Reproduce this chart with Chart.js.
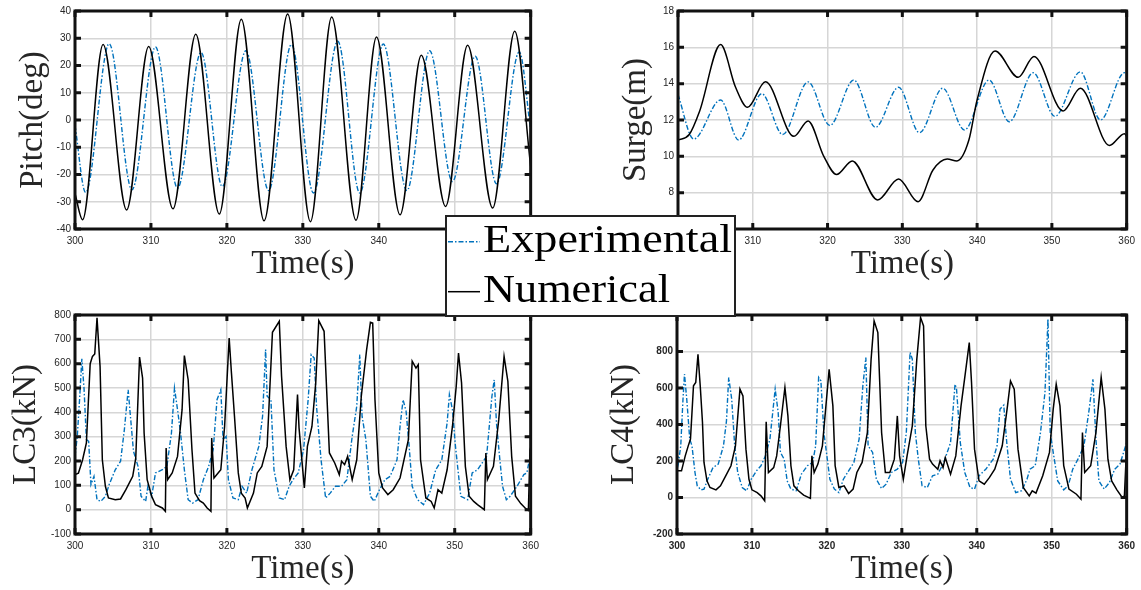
<!DOCTYPE html>
<html>
<head>
<meta charset="utf-8">
<script src="https://cdn.jsdelivr.net/npm/chart.js@4"></script>
<style>
  body { margin: 0; background: #fff; }
  #wrap { position: relative; width: 1141px; height: 590px; overflow: hidden; }
  canvas { position: absolute; }
  #legend { position: absolute; left: 445px; top: 215px; }
</style>
</head>
<body>
<div id="wrap">
  <canvas id="pitch" width="545" height="295" style="left:0;top:0"></canvas>
  <canvas id="surge" width="571" height="295" style="left:570px;top:0"></canvas>
  <canvas id="lc3" width="545" height="295" style="left:0;top:295px"></canvas>
  <canvas id="lc4" width="571" height="295" style="left:570px;top:295px"></canvas>
  <svg id="legend" width="291" height="102">
    <rect x="1" y="1" width="289" height="100" fill="#fff" stroke="#222" stroke-width="2"/>
    <line x1="3" y1="26.7" x2="35" y2="26.7" stroke="#0072BD" stroke-width="1.4" stroke-dasharray="5 2 1.5 2"/>
    <line x1="3" y1="76.7" x2="35" y2="76.7" stroke="#000" stroke-width="1.5"/>
    <text x="38" y="36.7" font-family="Liberation Serif" font-size="40" textLength="249" lengthAdjust="spacingAndGlyphs">Experimental</text>
    <text x="38" y="86.7" font-family="Liberation Serif" font-size="40" textLength="187" lengthAdjust="spacingAndGlyphs">Numerical</text>
  </svg>
</div>
<script>
// time axis shared by all four panels
var timeRange = [300, 360];

// pitch (deg): [time, value]
var pitchExperimental = [[300,-2],[301.4,-26.6],[304.5,28],[307.5,-25.6],[310.6,26.8],[313.5,-25],[316.6,24.8],[319.4,-24.4],[322.5,25.4],[325.5,-25.9],[328.5,27.7],[331.4,-26.8],[334.6,28.9],[337.5,-26.8],[340.6,27.9],[343.7,-25.9],[346.7,25.4],[349.7,-22.6],[352.7,23.4],[355.5,-23.4],[358.5,25],[360,-3.7]];
var pitchNumerical = [[300,-27],[301.0,-36.6],[303.7,27.7],[306.8,-33],[309.7,27],[312.9,-32.6],[315.9,31.5],[319.0,-34.5],[321.9,37],[324.9,-37],[328.0,38.9],[331.0,-37.3],[333.8,37.8],[337.0,-36.8],[339.7,30.5],[342.8,-34.8],[345.6,23.8],[348.8,-31.7],[351.7,27.4],[355.0,-32.3],[357.9,32.6],[360,-17]];

// surge (m)
var surgeExperimental = [[300,13.4],[302.1,10.95],[305.7,13.1],[308.1,10.9],[311.2,13.45],[314.0,11.2],[317.4,14.1],[320.3,11.7],[323.5,14.2],[326.4,11.6],[329.5,13.8],[332.3,11.3],[335.4,13.75],[338.3,11.45],[341.6,14.2],[344.3,11.9],[347.5,14.6],[350.4,12.2],[353.8,14.65],[356.5,12.0],[359.7,14.6],[360,14.5]];
var surgeNumerical = [[300,10.9],[301.5,11.2],[302.9,12.5],[305.7,16.15],[307.7,13.8],[309.3,12.7],[311.7,14.1],[315.5,11.1],[317.4,11.95],[319.5,10.0],[321.2,9.0],[323.3,9.75],[326.7,7.6],[329.5,8.75],[332.1,7.5],[334.1,9.25],[336.0,9.85],[337.3,9.75],[338.9,10.9],[340.0,13.1],[342.4,15.8],[345.5,14.35],[347.6,15.5],[351.5,12.5],[353.8,13.75],[357.7,10.6],[359.7,11.25],[360,11.1]];

// line tension LC3 (kN)
var lc3Experimental = [[300,219],[300.3,301],[300.6,452],[300.9,620],[301.2,493],[301.5,288],[301.8,281],[302.1,103],[302.5,137],[302.9,41],[303.4,34],[304.0,55],[304.5,103],[305.3,164],[306.0,199],[306.5,329],[307.0,493],[307.3,384],[307.7,240],[308.3,178],[308.7,55],[309.3,34],[309.6,96],[310.1,55],[310.6,151],[311.5,164],[312.1,178],[312.7,315],[313.1,500],[313.5,411],[313.9,315],[314.4,164],[314.9,41],[315.5,27],[316.2,41],[316.9,123],[317.6,178],[318.2,247],[318.7,452],[319.2,493],[319.5,288],[319.9,301],[320.2,123],[320.8,48],[321.5,41],[322.0,96],[322.6,68],[323.3,164],[324.2,260],[324.7,384],[325.1,658],[325.3,466],[325.8,452],[326.2,164],[326.9,48],[327.6,41],[328.2,96],[328.7,123],[329.4,151],[330.1,247],[330.7,452],[331.1,637],[331.5,623],[331.8,425],[332.4,205],[333.0,48],[333.6,68],[334.3,96],[335.1,96],[335.8,123],[336.5,301],[337.1,425],[337.5,637],[337.8,384],[338.3,288],[338.9,55],[339.4,34],[340.1,82],[340.8,123],[341.5,137],[342.4,205],[342.8,342],[343.2,452],[343.6,404],[344.0,260],[344.4,96],[345.1,41],[345.9,21],[346.7,68],[347.5,164],[348.3,205],[349.0,356],[349.3,473],[349.7,411],[350.1,260],[350.8,55],[351.7,41],[352.3,151],[353.0,164],[354.2,219],[354.9,466],[355.2,534],[355.5,356],[355.9,219],[356.3,96],[356.8,41],[357.3,55],[358.2,96],[359.1,144],[359.5,151],[360,233]];
var lc3Numerical = [[300,144],[300.45,150],[301.0,205],[301.5,274],[302.0,600],[302.3,630],[302.6,640],[302.9,788],[303.3,589],[303.6,205],[304.0,96],[304.4,48],[305.3,41],[306.0,44],[306.7,82],[307.6,137],[308.0,212],[308.5,627],[308.9,541],[309.1,315],[309.5,123],[310.1,55],[310.4,34],[310.6,20],[311.5,7],[311.9,-7],[312.0,253],[312.2,123],[312.8,151],[313.5,219],[314.1,411],[314.4,633],[314.9,534],[315.4,247],[315.8,68],[316.4,37],[316.9,27],[317.4,7],[317.9,-7],[318.0,294],[318.3,130],[319.2,164],[319.7,342],[320.3,705],[320.6,562],[321.0,384],[321.5,151],[321.9,68],[322.4,48],[322.7,7],[323.5,68],[324.0,151],[324.6,178],[325.3,260],[326.0,729],[326.9,774],[327.2,548],[327.8,260],[328.3,123],[328.8,164],[329.3,473],[329.5,336],[330.2,89],[330.6,260],[331.2,342],[331.7,521],[332.1,777],[332.8,733],[333.5,233],[334.2,192],[334.8,144],[335.1,199],[335.5,185],[335.9,219],[336.5,123],[337.1,205],[337.7,466],[338.4,658],[338.9,770],[339.2,767],[339.5,452],[340.0,151],[340.5,89],[341.2,62],[341.9,82],[342.8,130],[343.9,288],[344.4,610],[344.9,582],[345.2,596],[345.5,205],[346.2,48],[346.9,34],[347.3,7],[347.8,82],[348.3,68],[349.0,164],[349.7,342],[350.2,507],[350.5,644],[350.9,521],[351.4,178],[351.9,55],[352.5,34],[353.0,21],[353.9,0],[354.1,233],[354.3,123],[355.1,178],[355.8,370],[356.5,630],[357.0,527],[357.5,219],[358.0,55],[358.7,25],[359.4,3],[359.7,-3],[359.9,233],[360,219]];

// line tension LC4 (kN)
var lc4Experimental = [[300,265],[300.2,192],[300.5,283],[300.8,539],[301.0,676],[301.3,539],[301.7,320],[302.0,283],[302.4,137],[302.7,64],[303.2,42],[303.6,46],[304.1,100],[304.8,164],[305.5,183],[306.2,283],[306.6,420],[306.9,658],[307.3,539],[307.7,283],[308.1,137],[308.7,55],[309.3,37],[309.9,100],[310.6,146],[311.2,174],[311.8,228],[312.4,320],[313.1,594],[313.5,466],[313.8,247],[314.3,210],[314.7,91],[315.2,46],[315.9,37],[316.6,128],[317.4,174],[318.1,192],[318.5,283],[318.9,658],[319.2,639],[319.6,356],[320.0,228],[320.4,100],[321.0,46],[321.6,27],[322.2,100],[322.9,146],[323.6,192],[324.3,320],[324.8,612],[325.2,767],[325.5,283],[326.1,247],[326.6,100],[327.3,49],[327.9,73],[328.6,137],[329.4,155],[330.1,192],[330.6,356],[331.1,795],[331.4,758],[331.8,356],[332.2,210],[332.7,64],[333.4,55],[334.1,119],[334.8,128],[335.6,192],[336.5,301],[337.1,621],[337.3,594],[337.8,301],[338.4,137],[339.1,55],[339.7,46],[340.3,119],[341.2,155],[342.2,210],[342.7,283],[343.1,484],[343.6,506],[344.0,301],[344.5,100],[345.2,27],[346.0,37],[346.7,100],[347.1,155],[347.8,174],[348.5,356],[349.1,575],[349.5,977],[349.8,356],[350.2,247],[350.8,91],[351.6,42],[352.2,64],[352.8,155],[353.5,210],[354.3,283],[355.0,484],[355.5,648],[355.9,320],[356.3,91],[357.0,46],[357.7,82],[358.4,155],[359.1,183],[360,301]];
var lc4Numerical = [[300,146],[300.6,146],[301.1,228],[301.5,283],[301.8,320],[302.2,612],[302.5,630],[302.8,785],[303.1,612],[303.4,411],[303.6,192],[304.0,91],[304.4,55],[305.2,42],[305.8,64],[306.5,119],[307.2,174],[307.8,283],[308.4,594],[308.8,557],[309.2,265],[309.6,100],[310.0,42],[310.7,27],[311.2,9],[311.7,-18],[311.9,415],[312.2,137],[312.9,164],[313.3,228],[313.8,393],[314.4,603],[314.8,447],[315.2,174],[315.6,64],[316.2,37],[316.9,13],[317.8,-5],[318.0,228],[318.3,137],[318.8,183],[319.4,283],[320.3,703],[320.8,502],[321.1,174],[321.6,55],[322.3,64],[322.9,22],[323.5,46],[324.0,137],[324.7,192],[325.4,356],[325.9,758],[326.3,968],[326.8,904],[327.3,356],[327.8,137],[328.4,137],[329.0,210],[329.4,447],[329.7,228],[330.2,100],[330.7,228],[331.4,393],[332.0,758],[332.5,986],[332.9,940],[333.2,393],[333.7,210],[334.1,183],[334.8,155],[335.1,201],[335.5,164],[335.8,219],[336.5,128],[337.2,228],[337.9,502],[338.4,658],[339.0,849],[339.3,630],[339.7,265],[340.3,91],[341.0,73],[341.7,110],[342.4,155],[343.4,283],[344.1,502],[344.5,639],[345.0,594],[345.5,265],[346.2,55],[347.0,9],[347.4,37],[347.9,24],[348.8,119],[349.7,247],[350.2,484],[350.6,621],[351.1,502],[351.6,174],[352.3,46],[353.3,18],[353.9,-9],[354.1,356],[354.4,137],[355.2,174],[355.9,356],[356.6,658],[357.1,484],[357.5,210],[358.0,91],[358.7,42],[359.4,0],[359.7,9],[360,283]];

// y limits and tick step per panel: [min, max, step]
var pitchAxis = [-40, 40, 10];
var surgeAxis = [6, 18, 2];
var lc3Axis = [-100, 800, 100];
var lc4Axis = [-200, 1000, 200];

var expColor = '#0072BD';
var labelColor = '#262626';

// box frame with inward tick marks on all four sides
var boxAxes = {
    id: 'boxAxes',
    afterDraw: function(chart) {
        var ctx = chart.ctx, a = chart.chartArea;
        var x = chart.scales.x, y = chart.scales.y;
        ctx.save();
        ctx.strokeStyle = '#111';
        ctx.lineWidth = 3;
        ctx.strokeRect(a.left, a.top, a.right - a.left, a.bottom - a.top);
        ctx.beginPath();
        x.ticks.forEach(function(t) {
            var px = x.getPixelForValue(t.value);
            ctx.moveTo(px, a.top); ctx.lineTo(px, a.top + 6);
            ctx.moveTo(px, a.bottom); ctx.lineTo(px, a.bottom - 6);
        });
        y.ticks.forEach(function(t) {
            var py = y.getPixelForValue(t.value);
            ctx.moveTo(a.left, py); ctx.lineTo(a.left + 6, py);
            ctx.moveTo(a.right, py); ctx.lineTo(a.right - 6, py);
        });
        ctx.stroke();
        ctx.restore();
    }
};

function toPoints(pairs) {
    return pairs.map(function(p) { return {x: p[0], y: p[1]}; });
}

function makePanel(id, yLabel, axis, exp, num, lay) {
    var smooth = lay.smooth;
    var tickFont = {family: 'Liberation Sans', size: 10, weight: lay.bold ? 'bold' : 'normal'};
    var titleFont = {family: 'Liberation Serif', size: 33, lineHeight: 1};
    var grid = {color: '#d6d6d6', lineWidth: 1.5, drawTicks: false};
    return new Chart(document.getElementById(id).getContext('2d'), {
        type: 'line',
        data: {
            datasets: [
                {
                    label: 'Experimental',
                    data: toPoints(exp),
                    borderColor: expColor,
                    borderWidth: 1.4,
                    borderDash: [5, 2, 1.5, 2],
                    pointRadius: 0,
                    cubicInterpolationMode: smooth ? 'monotone' : 'default',
                    tension: 0,
                    order: 1
                },
                {
                    label: 'Numerical',
                    data: toPoints(num),
                    borderColor: '#000',
                    borderWidth: 1.5,
                    pointRadius: 0,
                    cubicInterpolationMode: smooth ? 'monotone' : 'default',
                    tension: 0,
                    order: 0
                }]
        },
        options: {
            responsive: false,
            animation: false,
            devicePixelRatio: 1,
            layout: {padding: {top: lay.top, right: lay.right, left: 0, bottom: 0}},
            plugins: {legend: {display: false}, tooltip: {enabled: false}},
            scales: {
                x: {
                    type: 'linear',
                    min: timeRange[0],
                    max: timeRange[1],
                    grid: grid,
                    border: {display: false},
                    ticks: {stepSize: 10, padding: 6, maxRotation: 0, autoSkip: false, color: labelColor, font: tickFont},
                    title: {display: true, text: 'Time(s)', color: labelColor, font: titleFont, padding: {top: 0, bottom: lay.xPad}},
                    afterFit: function(s) { s.height = lay.xHeight; }
                },
                y: {
                    min: axis[0],
                    max: axis[1],
                    grid: grid,
                    border: {display: false},
                    ticks: {
                        stepSize: axis[2], padding: 4, color: labelColor, font: tickFont,
                        // the top label sits under the legend box
                        callback: function(v) { return v < lay.hideAbove ? String(v) : ''; }
                    },
                    title: {display: true, text: yLabel, color: labelColor, font: titleFont, padding: {top: lay.yPad, bottom: 0}},
                    afterFit: function(s) { s.width = lay.yWidth; }
                }
            }
        },
        plugins: [boxAxes]
    });
}

makePanel('pitch', 'Pitch(deg)', pitchAxis, pitchExperimental, pitchNumerical,
    {smooth: true, top: 11, right: 13, yWidth: 75, xHeight: 66, yPad: 17, xPad: 14, hideAbove: Infinity});
makePanel('surge', 'Surge(m)', surgeAxis, surgeExperimental, surgeNumerical,
    {smooth: true, top: 11, right: 10, yWidth: 108, xHeight: 66, yPad: 50, xPad: 14, hideAbove: Infinity});
makePanel('lc3', 'LC3(kN)', lc3Axis, lc3Experimental, lc3Numerical,
    {smooth: false, top: 20, right: 13, yWidth: 75, xHeight: 56, yPad: 10, xPad: 4, hideAbove: Infinity});
makePanel('lc4', 'LC4(kN)', lc4Axis, lc4Experimental, lc4Numerical,
    {smooth: false, bold: true, top: 20, right: 10, yWidth: 107, xHeight: 56, yPad: 38, xPad: 4, hideAbove: 1000});
</script>
</body>
</html>
